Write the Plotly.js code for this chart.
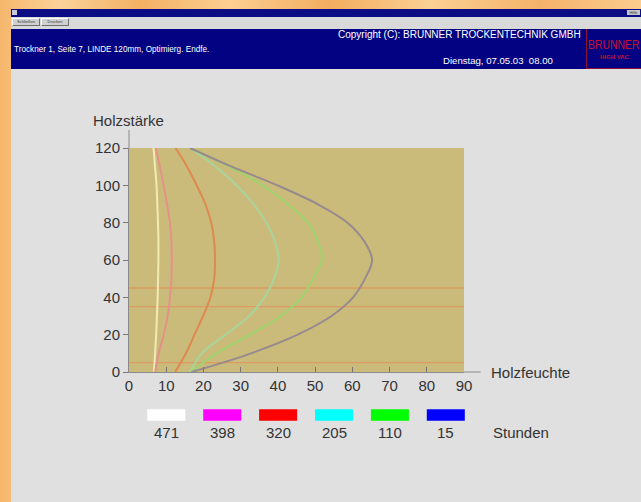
<!DOCTYPE html>
<html>
<head>
<meta charset="utf-8">
<script src="https://cdn.plot.ly/plotly-3.0.1.min.js"></script>
<style>
  html, body { margin:0; padding:0; }
  body { width:641px; height:502px; overflow:hidden; position:relative;
         background: linear-gradient(90deg, #f6b76c 0px, #fbd29a 60px, #f3b064 140px, #fccf92 230px, #f2ad60 330px, #fbd094 430px, #f4b36a 540px, #fbcd8e 641px);
         font-family: "Liberation Sans", Arial, sans-serif; }
  .abs { position:absolute; }
  #win { left:11px; top:9px; width:630px; height:493px; background:#e0e0e0; }
  #titlebar { left:11px; top:9px; width:630px; height:8px; background:#0c0c84; }
  #toolbar { left:11px; top:17px; width:630px; height:12px; background:#d9d9d9; }
  .btn { top:18px; height:6px; background:#d0d0d0; border:1px solid; border-color:#ffffff #707070 #707070 #ffffff;
         font-size:4px; line-height:6px; text-align:center; color:#333; }
  #header { left:11px; top:29px; width:630px; height:40px; background:#020282; }
  .hdr { color:#ffffff; white-space:nowrap; line-height:12px; }
  #chart { left:0; top:0; width:641px; height:502px; }
</style>
</head>
<body>
<div id="win" class="abs"></div>
<div id="titlebar" class="abs"></div>
<div class="abs" style="left:12px;top:10px;width:5px;height:5px;background:#c8c8d8;"></div>
<div class="abs" style="left:627px;top:10px;width:13px;height:5px;background:#c8c8c8;font-size:4px;line-height:5px;color:#333;text-align:center;">Hilfe</div>
<div id="toolbar" class="abs"></div>
<div class="abs btn" style="left:12px;width:26px;">Schließen</div>
<div class="abs btn" style="left:41px;width:26px;">Drucken</div>
<div id="header" class="abs"></div>
<div class="abs hdr" style="left:14px;top:44px;font-size:8.2px;">Trockner 1, Seite 7, LINDE 120mm, Optimierg. Endfe.</div>
<div class="abs hdr" style="left:338px;top:29px;font-size:10px;">Copyright (C): BRUNNER TROCKENTECHNIK GMBH</div>
<div class="abs hdr" style="left:443px;top:55px;font-size:9.6px;">Dienstag, 07.05.03&nbsp; 08.00</div>
<div class="abs" style="left:586px;top:29px;width:60px;height:39px;border-left:1px solid #8c1038;border-bottom:1px solid #8c1038;"></div>
<div class="abs" style="left:588px;top:38px;color:#c8102e;font-size:10.4px;line-height:12px;white-space:nowrap;transform:scaleY(1.2);transform-origin:left top;">BRUNNER</div>
<div class="abs" style="left:600px;top:53px;color:#c8102e;font-size:6px;font-weight:bold;line-height:8px;white-space:nowrap;">HIGH VAC</div>
<div id="chart" class="abs"></div>
<script>
// Holzstärke (mm) – vertical axis positions of the readings
const thickness = [0, 10, 20, 30, 40, 50, 60, 70, 80, 90, 100, 110, 120];

// Holzfeuchte (%) profiles after N hours
const h471 = [6.7, 7.0, 7.3, 7.5, 7.7, 7.8, 7.9, 7.9, 7.8, 7.6, 7.4, 7.0, 6.6];
const h398 = [7.0, 8.0, 9.3, 10.4, 11.0, 11.4, 11.5, 11.4, 11.0, 10.2, 9.3, 8.3, 7.2];
const h320 = [12.4, 15.3, 17.6, 19.9, 21.9, 22.9, 23.1, 22.9, 22.1, 20.5, 18.2, 15.6, 12.5];
const h205 = [16.4, 19.6, 25.9, 32.3, 36.4, 39.0, 40.2, 39.2, 36.9, 33.4, 28.9, 23.3, 16.4];
const h110 = [16.6, 23.5, 32.5, 40.8, 46.3, 49.5, 51.8, 50.8, 48.0, 42.6, 35.9, 26.9, 16.4];
const h15  = [16.8, 32.8, 45.3, 54.4, 60.2, 63.4, 65.3, 63.2, 58.7, 50.6, 39.9, 27.6, 16.4];

const seriesNames  = ['471', '398', '320', '205', '110', '15'];
const seriesValues = [h471, h398, h320, h205, h110, h15];
const legendColors = ['#ffffff', '#ff00ff', '#ff0000', '#00ffff', '#00ff00', '#0000ff'];
const lineColors   = ['#f2eab5', '#e3928a', '#de8a4e', '#a8d49c', '#9ed46c', '#978a8e'];

// reference levels (dotted orange lines)
const refLevels = [5, 35, 45];

const xTicks = [0, 10, 20, 30, 40, 50, 60, 70, 80, 90];
const yTicks = [0, 20, 40, 60, 80, 100, 120];

const traces = seriesValues.map((vals, i) => ({
  type: 'scatter', mode: 'lines', name: seriesNames[i],
  x: vals, y: thickness,
  line: { color: lineColors[i], width: 2, shape: 'spline', smoothing: 1 },
  hoverinfo: 'skip', showlegend: false
}));

const shapes = [];
const annotations = [];

refLevels.forEach(v => shapes.push({
  type: 'line', xref: 'paper', yref: 'y', x0: 0, x1: 1, y0: v, y1: v,
  line: { color: '#db9c62', width: 1.3 }, layer: 'below'
}));

// axis-line extensions beyond the plot area
shapes.push({ type: 'line', xref: 'paper', yref: 'paper', x0: 1, x1: 1.05, y0: 0, y1: 0,
  line: { color: '#8a8a8a', width: 1 } });
shapes.push({ type: 'line', xref: 'paper', yref: 'paper', x0: 0, x1: 0, y0: 1, y1: 1.08,
  line: { color: '#8a8a8a', width: 1 } });

// custom legend: colour swatches with hour labels
const W = 335, H = 224;
seriesNames.forEach((n, i) => {
  const cx = (166.3 - 129 + i * 55.9) / W;
  const hw = 19 / W;
  shapes.push({ type: 'rect', xref: 'paper', yref: 'paper',
    x0: cx - hw, x1: cx + hw, y0: -0.2174, y1: -0.1665,
    fillcolor: legendColors[i], line: { width: 0 } });
  annotations.push({ xref: 'paper', yref: 'paper', x: cx, y: -0.272, text: n,
    showarrow: false, xanchor: 'center', yanchor: 'middle',
    font: { size: 15, color: '#333333' } });
});
annotations.push({ xref: 'paper', yref: 'paper', x: (491 - 129) / W, y: -0.272, text: 'Stunden',
  showarrow: false, xanchor: 'left', yanchor: 'middle', font: { size: 15, color: '#333333' } });

// axis titles
annotations.push({ xref: 'paper', yref: 'paper', x: (91 - 129) / W, y: (372 - 120) / H, text: 'Holzstärke',
  showarrow: false, xanchor: 'left', yanchor: 'middle', font: { size: 15, color: '#333333' } });
annotations.push({ xref: 'paper', yref: 'paper', x: (489 - 129) / W, y: 0, text: 'Holzfeuchte',
  showarrow: false, xanchor: 'left', yanchor: 'middle', font: { size: 15, color: '#333333' } });

const layout = {
  width: 641, height: 502,
  margin: { l: 129, r: 177, t: 148, b: 130, pad: 0 },
  paper_bgcolor: 'rgba(0,0,0,0)',
  plot_bgcolor: '#cbbb7b',
  font: { family: '"Liberation Sans", Arial, sans-serif', size: 15, color: '#333333' },
  showlegend: false,
  xaxis: {
    range: [0, 90], tickvals: xTicks, ticktext: xTicks.map(String),
    showgrid: false, zeroline: false, showline: true, linecolor: '#8a8a8a', linewidth: 1,
    ticks: 'inside', ticklen: 5, tickcolor: '#777777',
    tickfont: { size: 15, color: '#333333' }, fixedrange: true
  },
  yaxis: {
    range: [0, 120], tickvals: yTicks, ticktext: yTicks.map(String),
    showgrid: false, zeroline: false, showline: true, linecolor: '#8a8a8a', linewidth: 1,
    ticks: 'outside', ticklen: 5, tickcolor: '#777777',
    tickfont: { size: 15, color: '#333333' }, fixedrange: true
  },
  shapes: shapes,
  annotations: annotations
};

Plotly.newPlot('chart', traces, layout, { displayModeBar: false, staticPlot: true });
</script>
</body>
</html>
